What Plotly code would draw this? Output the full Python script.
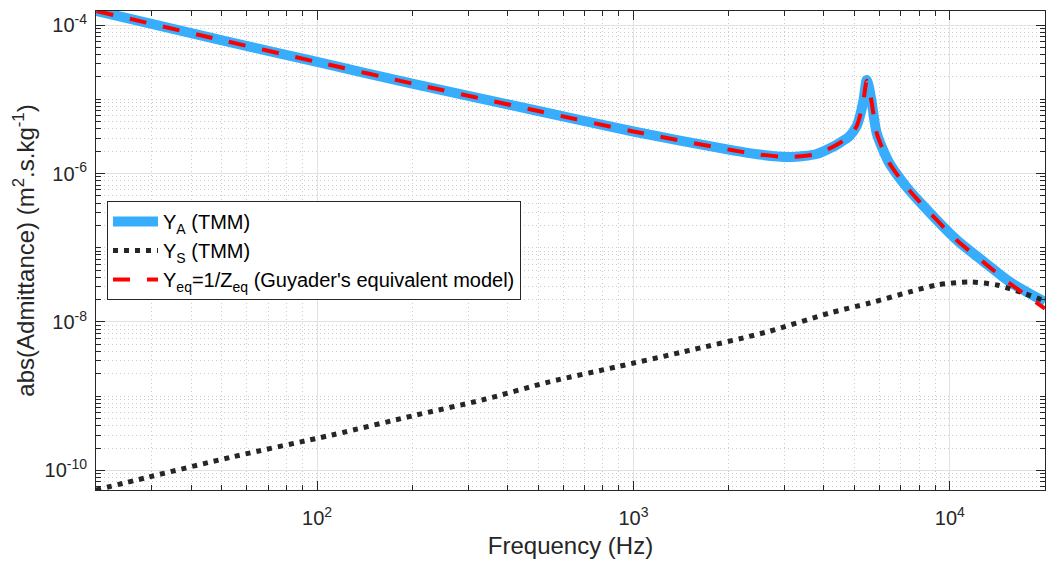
import plotly.graph_objects as go

# ---- data (frequency in Hz, admittance magnitude) ----
freq_A = [20.07, 49.7, 100, 199.8, 500.5, 1000, 2000, 2504, 3117, 3794, 4263, 4486,
          4826, 5078, 5191, 5344, 5462, 5543, 5665, 5875, 6412, 7259, 7981, 10524,
          12720, 15485, 19980]
Y_A = [1.545e-4, 6.28e-5, 3.18e-5, 1.63e-5, 6.95e-6, 3.68e-6, 2.10e-6, 1.80e-6,
       1.667e-6, 1.83e-6, 2.28e-6, 2.58e-6, 3.20e-6, 4.36e-6, 5.77e-6, 1.01e-5,
       1.82e-5, 1.51e-5, 9.18e-6, 3.51e-6, 1.43e-6, 6.79e-7, 4.27e-7, 1.27e-7,
       6.64e-8, 3.46e-8, 1.86e-8]

freq_S = [20, 29.4, 53.8, 111.5, 205.6, 332, 542, 883, 1429, 2636, 4170, 5580,
          7470, 9090, 11570, 14080, 16660, 20000]
Y_S = [5.46e-11, 8.17e-11, 1.52e-10, 3.01e-10, 5.58e-10, 8.89e-10, 1.56e-9,
       2.48e-9, 3.94e-9, 7.33e-9, 1.32e-8, 1.80e-8, 2.54e-8, 3.15e-8, 3.46e-8,
       3.15e-8, 2.54e-8, 1.92e-8]

freq_eq = [20.07, 49.7, 100, 199.8, 500.5, 1000, 2000, 2504, 3117, 3794, 4263, 4486,
           4826, 5078, 5191, 5344, 5462, 5543, 5665, 5875, 6412, 7259, 7981, 10524,
           12720, 15485, 19980]
Y_eq = [1.545e-4, 6.28e-5, 3.18e-5, 1.63e-5, 6.95e-6, 3.68e-6, 2.10e-6, 1.80e-6,
        1.667e-6, 1.83e-6, 2.28e-6, 2.58e-6, 3.20e-6, 4.36e-6, 5.77e-6, 1.01e-5,
        1.78e-5, 1.49e-5, 9.1e-6, 3.51e-6, 1.43e-6, 6.79e-7, 4.27e-7, 1.26e-7,
        6.5e-8, 3.3e-8, 1.52e-8]

names = ["Y<sub>A</sub> (TMM)", "Y<sub>S</sub> (TMM)",
         "Y<sub>eq</sub>=1/Z<sub>eq</sub> (Guyader's equivalent model)"]

x_major = [100, 1000, 10000]
x_major_text = ["10<sup>2</sup>", "10<sup>3</sup>", "10<sup>4</sup>"]
y_major = [1e-10, 1e-8, 1e-6, 1e-4]
y_major_text = ["10<sup>-10</sup>", "10<sup>-8</sup>", "10<sup>-6</sup>", "10<sup>-4</sup>"]

FONT = "Liberation Sans, Arial, Helvetica, sans-serif"
AX = "#262626"

x_minor = [m * 10 ** e for e in range(1, 5) for m in range(2, 10) if m * 10 ** e <= 20000]
y_minor = [m * 10.0 ** e for e in range(-11, -3) for m in range(1, 10)
           if m * 10.0 ** e not in y_major]

fig = go.Figure()
fig.add_trace(go.Scatter(x=freq_A, y=Y_A, name=names[0], mode="lines",
                         line=dict(color="#38adfb", width=10, shape="spline", smoothing=0.7)))
fig.add_trace(go.Scatter(x=freq_S, y=Y_S, name=names[1], mode="lines",
                         line=dict(color="#262626", width=5, dash="5px,6px",
                                   shape="spline", smoothing=0.8)))
fig.add_trace(go.Scatter(x=freq_eq, y=Y_eq, name=names[2], mode="lines",
                         line=dict(color="#ff0000", width=4, dash="17px,17px",
                                   shape="spline", smoothing=0.7)))

axis_common = dict(
    showline=True, linecolor=AX, linewidth=1, mirror="allticks",
    ticks="inside", ticklen=9, tickcolor=AX, tickwidth=1,
    showgrid=True, gridcolor="#e2e2e2", gridwidth=1,
    tickfont=dict(family=FONT, size=20, color=AX),
    zeroline=False,
)

fig.update_xaxes(
    type="log", range=[1.30103, 4.30103],
    tickmode="array", tickvals=x_major, ticktext=x_major_text,
    ticklabelstandoff=10,
    minor=dict(tickmode="array", tickvals=x_minor, ticks="inside", ticklen=5,
               tickcolor=AX, showgrid=True, gridcolor="#cccccc", griddash="1px,3px"),
    title=dict(text="Frequency (Hz)", font=dict(family=FONT, size=24, color=AX), standoff=9),
    **axis_common)
fig.update_yaxes(
    type="log", range=[-10.263, -3.811],
    tickmode="array", tickvals=y_major, ticktext=y_major_text,
    ticklabelstandoff=4,
    minor=dict(tickmode="array", tickvals=y_minor, ticks="inside", ticklen=5,
               tickcolor=AX, showgrid=True, gridcolor="#cccccc", griddash="1px,3px"),
    title=dict(text="abs(Admittance) (m<sup>2</sup>.s.kg<sup>-1</sup>)",
               font=dict(family=FONT, size=24, color=AX), standoff=3),
    **axis_common)

fig.update_layout(
    width=1047, height=565,
    margin=dict(l=96, r=2, t=11, b=75, autoexpand=False),
    paper_bgcolor="white", plot_bgcolor="white",
    font=dict(family=FONT, color=AX),
    showlegend=True,
    legend=dict(x=0.0116, y=0.6033, xanchor="left", yanchor="top",
                bgcolor="white", bordercolor=AX, borderwidth=1,
                font=dict(family=FONT, size=20, color="black"),
                itemwidth=45, tracegroupgap=0),
)

fig.write_html("out.html", config={"displayModeBar": False},
               post_script="document.body.style.margin='0';")
